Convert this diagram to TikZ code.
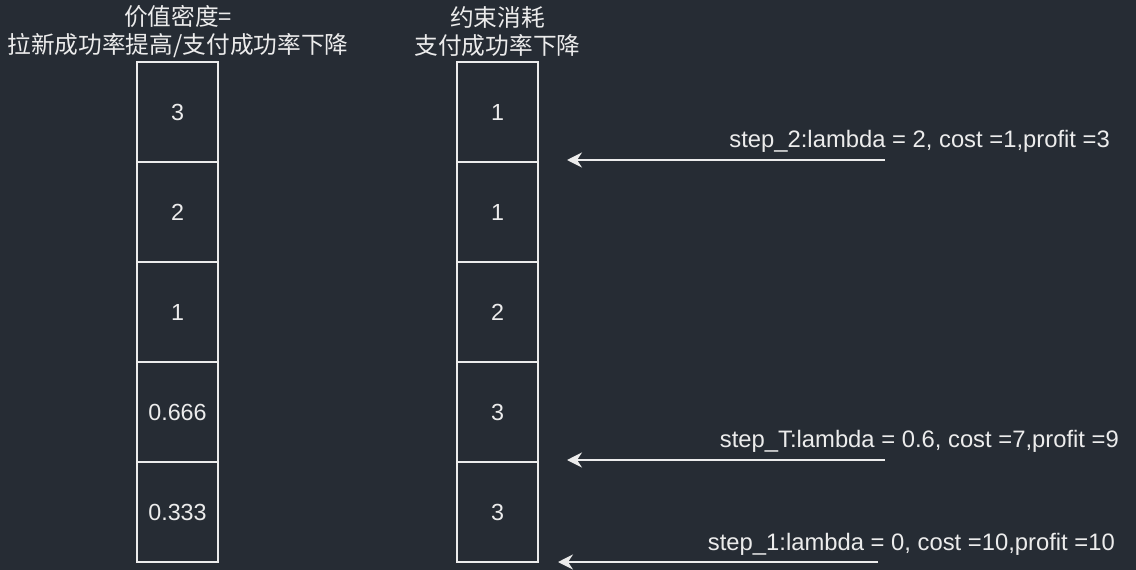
\documentclass[tikz,border=0pt]{standalone}
\usepackage{fontspec}
\setmainfont{Liberation Sans}
\newfontfamily\cjk{Noto Sans CJK SC}
\usetikzlibrary{arrows.meta}
\definecolor{bg}{RGB}{38,44,52}
\definecolor{fg}{RGB}{236,236,236}
\tikzset{
  cell/.style={draw=fg, line width=2pt, minimum width=81pt, minimum height=100pt, inner sep=0pt, text=fg, font=\fontsize{23.3}{28}\selectfont},
  title/.style={text=fg, align=center, font=\cjk\fontsize{23.7}{28}\selectfont, inner sep=0pt},
  lbl/.style={text=fg, font=\fontsize{23.8}{28}\selectfont, inner sep=0pt, anchor=east},
  arr/.style={draw=fg, line width=2pt, -{Stealth[length=15pt, width=15pt, inset=5pt]}}
}
\begin{document}
\begin{tikzpicture}[x=1pt,y=-1pt]
\fill[bg] (0,0) rectangle (1136,570);
\useasboundingbox (0,0) rectangle (1136,570);
% titles
\node[title] (t1) at (178,32) {价值密度=\\拉新成功率提高/支付成功率下降};
\node[title] (t2) at (497.5,32) {约束消耗\\支付成功率下降};
% left column
\node[cell] (a1) at (177.5,112) {3};
\node[cell] (a2) at (177.5,212) {2};
\node[cell] (a3) at (177.5,312) {1};
\node[cell] (a4) at (177.5,412) {0.666};
\node[cell] (a5) at (177.5,512) {0.333};
% right column
\node[cell] (b1) at (497.5,112) {1};
\node[cell] (b2) at (497.5,212) {1};
\node[cell] (b3) at (497.5,312) {2};
\node[cell] (b4) at (497.5,412) {3};
\node[cell] (b5) at (497.5,512) {3};
% arrows
\coordinate (s2s) at (885,160);
\coordinate (s2e) at (567,160);
\coordinate (sTs) at (885,460);
\coordinate (sTe) at (567,460);
\coordinate (s1s) at (878,562);
\coordinate (s1e) at (558,562);
\draw[arr] (s2s) -- (s2e);
\draw[arr] (sTs) -- (sTe);
\draw[arr] (s1s) -- (s1e);
\node[lbl] (l2) at (1110,141) {step\_2:lambda = 2, cost =1,profit =3};
\node[lbl] (lT) at (1119,441) {step\_T:lambda = 0.6, cost =7,profit =9};
\node[lbl] (l1) at (1115,544) {step\_1:lambda = 0, cost =10,profit =10};
\end{tikzpicture}
\end{document}
